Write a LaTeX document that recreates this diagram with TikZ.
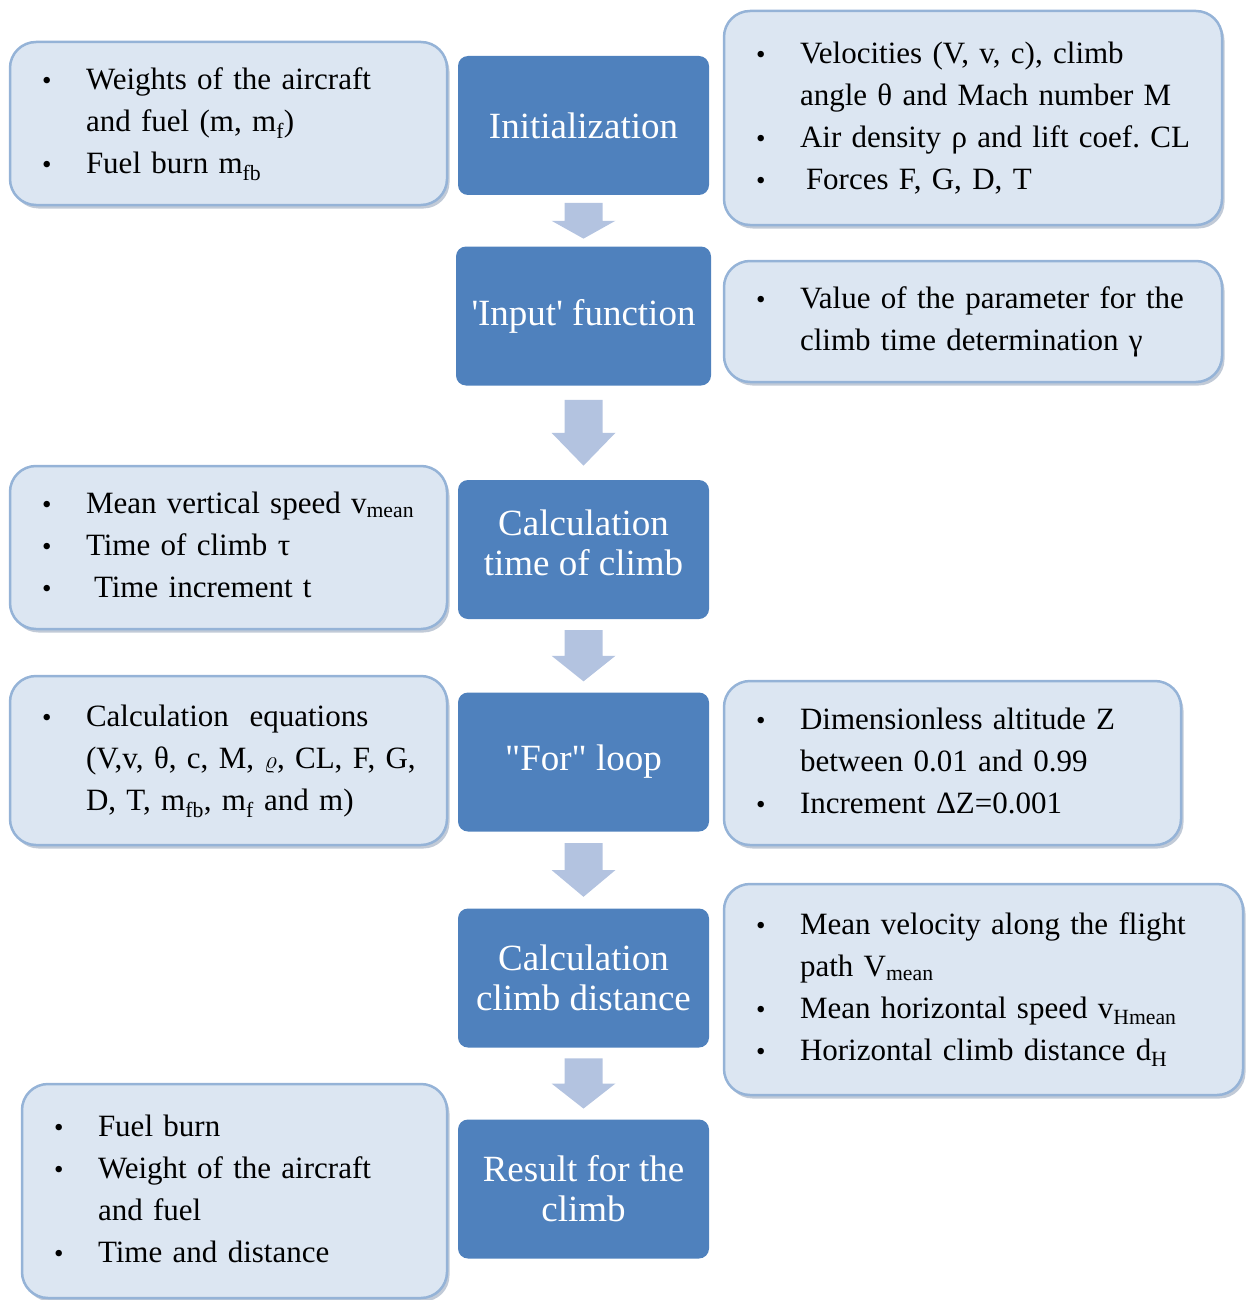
\documentclass[tikz,border=0pt]{standalone}
\usepackage{fontspec}
\setmainfont{Liberation Serif}
\usepackage{tikz}
\usetikzlibrary{calc}
\usetikzlibrary{shadows}
\frenchspacing

\definecolor{boxblue}{HTML}{4F81BD}
\definecolor{sidefill}{HTML}{DCE6F2}
\definecolor{sideline}{HTML}{95B3D7}
\definecolor{arrowblue}{HTML}{B3C3E0}
\definecolor{shadowgray}{HTML}{8496B0}

\newcommand{\itemdot}{\makebox[44pt][l]{\fontsize{27}{27}\selectfont\textbullet}}

\tikzset{
    stage/.style={fill=boxblue, rounded corners=10pt, minimum width=251pt,
        minimum height=139pt, text=white, align=center,
        font=\fontsize{37}{40}\selectfont},
    info/.style={fill=sidefill, draw=sideline, line width=2.5pt,
        rounded corners=26pt, inner xsep=32pt, align=left,
        font=\fontsize{31}{42}\selectfont,
        drop shadow={shadow xshift=2.5pt, shadow yshift=-3.5pt, fill=shadowgray}},
    flowarrow/.style={fill=arrowblue}
}

\begin{document}
\begin{tikzpicture}[x=1pt, y=-1pt]
            \useasboundingbox (0,0) rectangle (1247,1300);

            % Main steps
            \node[stage] (init) at (583.5,125.5) {Initialization};
            \node[stage, minimum width=255pt] (input) at (583.5,316) {\textquotesingle Input\textquotesingle\ function};
            \node[stage] (tclimb) at (583.5,549.5) {Calculation\\time of climb\rule[-14pt]{0pt}{1pt}};
            \node[stage] (forloop) at (583.5,762) {\textquotedbl For\textquotedbl\ loop};
            \node[stage] (cdist) at (583.5,978) {Calculation\\climb distance};
            \node[stage] (result) at (583.5,1189) {Result for the\\climb};

            % Arrows between the steps
            \foreach \a/\b in {init/input, input/tclimb, tclimb/forloop, forloop/cdist, cdist/result} {
                \fill[flowarrow] let \p1=(\a.south), \p2=(\b.north),
                    \n1={0.15*(\y1-\y2)}, \n2={0.35*(\y1-\y2)} in
                    (\x1-19pt,\y1-\n1) -- (\x1+19pt,\y1-\n1) -- (\x1+19pt,\y1-\n1-\n2)
                    -- (\x1+32pt,\y1-\n1-\n2) -- (\x1,\y2+\n1) -- (\x1-32pt,\y1-\n1-\n2)
                    -- (\x1-19pt,\y1-\n1-\n2) -- cycle;
            }

            % Left notes
            \node[info, text width=373pt, minimum height=163pt] (weights) at (228.5,123.5) {%
                \begin{tabular}{@{}l@{}l@{}}
                \itemdot & Weights of the aircraft\\
                         & and fuel (m, m\textsubscript{f})\\
                \itemdot & Fuel burn m\textsubscript{fb}
                \end{tabular}};
            \node[info, text width=373pt, minimum height=163pt] (speeds) at (228.5,547.5) {%
                \begin{tabular}{@{}l@{}l@{}}
                \itemdot & Mean vertical speed v\textsubscript{mean}\\
                \itemdot & Time of climb τ\\
                \itemdot & \hspace{8pt}Time increment t
                \end{tabular}};
            \node[info, text width=373pt, minimum height=169pt] (equations) at (228.5,760.5) {%
                \begin{tabular}{@{}l@{}l@{}}
                \itemdot & Calculation\ \ equations\\
                         & (V,v, θ, c, M, $\varrho$, CL, F, G,\\
                         & D, T, m\textsubscript{fb}, m\textsubscript{f} and m)
                \end{tabular}};
            \node[info, text width=361pt, minimum height=214pt] (results) at (234.5,1191) {%
                \begin{tabular}{@{}l@{}l@{}}
                \itemdot & Fuel burn\\
                \itemdot & Weight of the aircraft\\
                         & and fuel\\
                \itemdot & Time and distance
                \end{tabular}};

            % Right notes
            \node[info, text width=434pt, minimum height=214pt] (velocities) at (973,118) {%
                \begin{tabular}{@{}l@{}l@{}}
                \itemdot & Velocities (V, v, c), climb\\
                         & angle θ and Mach number M\\
                \itemdot & Air density ρ and lift coef. CL\\
                \itemdot & \hspace{6pt}Forces F, G, D, T
                \end{tabular}};
            \node[info, text width=434pt, minimum height=121pt] (param) at (973,321.5) {%
                \begin{tabular}{@{}l@{}l@{}}
                \itemdot & Value of the parameter for the\\
                         & climb time determination γ
                \end{tabular}};
            \node[info, text width=393pt, minimum height=164pt] (altitude) at (952.5,763) {%
                \begin{tabular}{@{}l@{}l@{}}
                \itemdot & Dimensionless altitude Z\\
                         & between 0.01 and 0.99\\
                \itemdot & Increment ΔZ=0.001
                \end{tabular}};
            \node[info, text width=455pt, minimum height=211pt] (distance) at (983.5,989.5) {%
                \begin{tabular}{@{}l@{}l@{}}
                \itemdot & Mean velocity along the flight\\
                         & path V\textsubscript{mean}\\
                \itemdot & Mean horizontal speed v\textsubscript{Hmean}\\
                \itemdot & Horizontal climb distance d\textsubscript{H}
                \end{tabular}};

\end{tikzpicture}
\end{document}
